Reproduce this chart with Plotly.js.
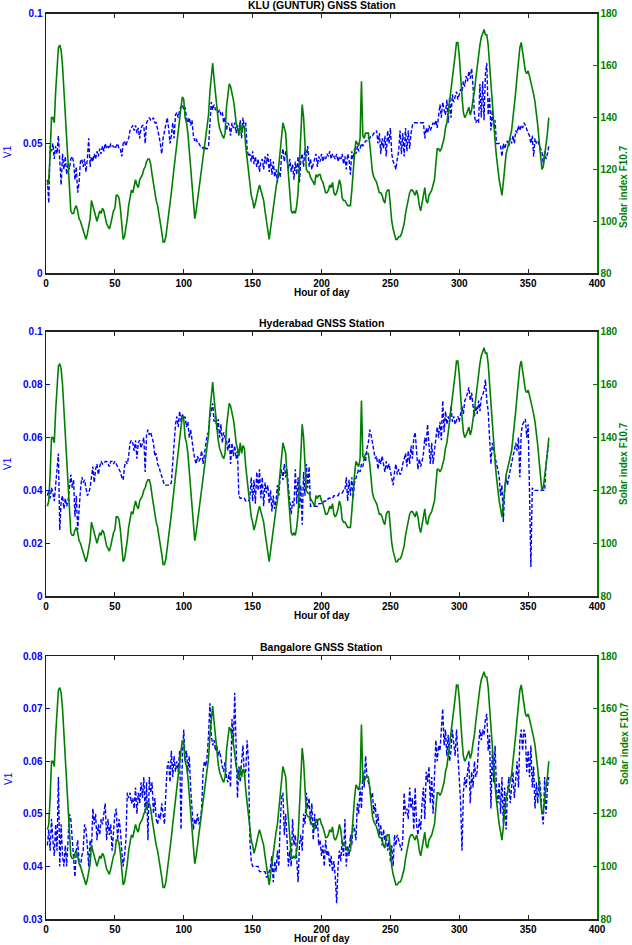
<!DOCTYPE html>
<html>
<head>
<meta charset="utf-8">
<script src="https://cdn.plot.ly/plotly-3.0.1.min.js"></script>
<style>html,body{margin:0;padding:0;background:#fff;}#chart{width:632px;height:945px;}</style>
</head>
<body>
<div id="chart"></div>
<script>
// Day index 1..365
const days = Array.from({length: 365}, (_, i) => i + 1);

const stationTitles = ["KLU (GUNTUR) GNSS Station", "Hyderabad GNSS Station", "Bangalore GNSS Station"];

// Solar index F10.7 (same in all panels)
const f107 = [
114,116,126,140,140,138,150,160,167,168,
166,160,150,140,131,122,112,104,103,103,
105,106,104,101,100,98,96,94,93,95,
98,101,108,106,103,101,100,102,104,103,
105,104,101,99,98,97,99,102,104,105,
110,110,109,105,99,93,94,97,101,106,
110,112,111,114,116,114,113,116,117,118,
120,121,123,124,124,122,118,114,110,108,
106,103,99,96,92,92,94,98,101,105,
111,116,121,126,131,135,139,144,148,147,
140,138,134,127,121,114,107,101,104,108,
111,115,120,124,129,133,136,141,150,156,
161,155,149,144,139,136,134,133,132,134,
144,150,153,152,150,147,143,138,136,133,
138,134,137,136,129,124,119,114,110,108,
105,107,110,112,114,112,111,108,104,100,
96,93,97,101,107,111,113,116,121,126,
132,138,136,134,125,118,112,104,103,104,
103,106,111,124,139,145,140,129,120,119,
119,117,116,115,114,118,117,118,118,116,
115,113,111,111,112,114,113,115,111,110,
111,113,116,114,109,108,108,107,106,106,
106,112,121,126,131,130,129,132,154,133,
132,134,134,134,130,125,119,117,116,115,
113,111,111,110,108,107,111,112,112,104,
100,97,95,93,93,94,94,95,97,99,
103,106,109,111,112,112,111,110,112,110,
106,104,107,110,113,108,107,110,111,112,
114,116,122,128,128,127,128,130,132,136,
138,142,146,151,156,160,164,169,169,164,
155,148,142,140,141,143,144,141,143,147,
150,155,160,165,168,171,173,174,172,172,
168,160,154,145,138,131,125,120,116,113,
110,115,122,126,128,130,132,135,140,144,
150,156,162,167,169,165,160,158,157,158,
156,154,152,149,146,142,137,131,124,120,
121,125,130,134,140];

// V1 — KLU (Guntur)
const v1Klu = [
0.036,0.027,0.049,0.047,0.050,0.044,0.049,0.046,0.053,0.041,
0.034,0.046,0.040,0.045,0.038,0.042,0.040,0.044,0.045,0.043,
0.036,0.041,0.031,0.035,0.043,0.044,0.041,0.044,0.039,0.044,
0.052,0.041,0.045,0.043,0.046,0.044,0.047,0.045,0.048,0.046,
0.049,0.047,0.050,0.048,0.049,0.048,0.050,0.049,0.049,0.048,
0.049,0.050,0.048,0.048,0.045,0.050,0.051,0.049,0.051,0.052,
0.055,0.056,0.057,0.055,0.057,0.054,0.056,0.052,0.056,0.057,
0.057,0.050,0.058,0.059,0.060,0.059,0.059,0.060,0.058,0.058,
0.056,0.053,0.050,0.046,0.052,0.055,0.058,0.060,0.056,0.050,
0.053,0.058,0.052,0.061,0.062,0.060,0.063,0.064,0.065,0.063,
0.064,0.060,0.058,0.060,0.057,0.059,0.053,0.051,0.052,0.050,
0.050,0.049,0.049,0.048,0.049,0.048,0.048,0.049,0.060,0.066,
0.063,0.065,0.063,0.063,0.062,0.063,0.061,0.062,0.058,0.060,
0.055,0.058,0.057,0.053,0.058,0.056,0.058,0.054,0.057,0.055,
0.059,0.052,0.060,0.056,0.058,0.048,0.045,0.046,0.043,0.047,
0.042,0.045,0.041,0.044,0.039,0.043,0.044,0.040,0.045,0.042,
0.046,0.039,0.044,0.038,0.043,0.037,0.040,0.035,0.039,0.037,
0.045,0.048,0.043,0.047,0.044,0.040,0.044,0.039,0.042,0.036,
0.043,0.038,0.045,0.035,0.044,0.046,0.041,0.048,0.045,0.049,
0.041,0.044,0.040,0.042,0.044,0.046,0.041,0.045,0.043,0.046,
0.043,0.045,0.044,0.046,0.045,0.047,0.044,0.046,0.045,0.044,
0.046,0.043,0.045,0.044,0.046,0.042,0.045,0.040,0.046,0.044,
0.038,0.047,0.044,0.048,0.046,0.049,0.047,0.048,0.050,0.049,
0.050,0.051,0.051,0.052,0.052,0.053,0.053,0.054,0.054,0.055,
0.050,0.054,0.046,0.052,0.048,0.053,0.045,0.055,0.050,0.056,
0.046,0.043,0.042,0.040,0.044,0.047,0.055,0.046,0.054,0.045,
0.056,0.047,0.055,0.048,0.054,0.057,0.058,0.058,0.058,0.058,
0.058,0.058,0.058,0.058,0.052,0.056,0.054,0.057,0.055,0.057,
0.058,0.057,0.059,0.056,0.062,0.065,0.060,0.066,0.063,0.061,
0.067,0.058,0.068,0.060,0.069,0.066,0.068,0.070,0.067,0.069,
0.071,0.070,0.074,0.072,0.076,0.074,0.078,0.075,0.079,0.072,
0.061,0.058,0.059,0.058,0.073,0.060,0.074,0.059,0.077,0.081,
0.061,0.068,0.055,0.063,0.056,0.059,0.050,0.050,0.050,0.049,
0.045,0.050,0.048,0.050,0.051,0.049,0.052,0.050,0.053,0.050,
0.055,0.054,0.057,0.055,0.057,0.056,0.058,0.057,0.055,0.054,
0.053,0.050,0.053,0.045,0.052,0.050,0.051,0.049,0.048,0.047,
0.042,0.047,0.044,0.046,0.049];

// V1 — Hyderabad
const v1Hyd = [
0.038,0.040,0.037,0.041,0.039,0.036,0.042,0.047,0.054,0.025,
0.036,0.038,0.033,0.037,0.034,0.036,0.040,0.046,0.041,0.044,
0.030,0.038,0.025,0.035,0.040,0.045,0.043,0.044,0.040,0.038,
0.039,0.041,0.045,0.049,0.043,0.048,0.050,0.046,0.049,0.051,
0.050,0.050,0.051,0.051,0.050,0.049,0.051,0.051,0.050,0.051,
0.050,0.049,0.048,0.047,0.045,0.044,0.049,0.051,0.050,0.053,
0.058,0.059,0.058,0.055,0.059,0.052,0.058,0.059,0.056,0.058,
0.060,0.047,0.061,0.063,0.061,0.062,0.060,0.058,0.053,0.054,
0.050,0.049,0.047,0.045,0.043,0.042,0.042,0.042,0.042,0.042,
0.043,0.050,0.060,0.065,0.068,0.064,0.070,0.066,0.069,0.067,
0.068,0.064,0.066,0.060,0.063,0.058,0.055,0.052,0.050,0.053,
0.051,0.052,0.055,0.050,0.054,0.058,0.061,0.062,0.068,0.070,
0.073,0.066,0.068,0.063,0.067,0.060,0.065,0.058,0.062,0.060,
0.059,0.055,0.060,0.050,0.058,0.053,0.057,0.052,0.055,0.038,
0.037,0.037,0.037,0.037,0.036,0.036,0.036,0.037,0.045,0.036,
0.044,0.035,0.047,0.040,0.048,0.037,0.045,0.034,0.043,0.039,
0.042,0.035,0.040,0.032,0.038,0.033,0.036,0.042,0.038,0.045,
0.048,0.044,0.050,0.045,0.048,0.041,0.037,0.031,0.036,0.034,
0.048,0.035,0.045,0.033,0.042,0.027,0.047,0.038,0.050,0.041,
0.049,0.034,0.034,0.034,0.034,0.034,0.034,0.035,0.035,0.035,
0.035,0.036,0.036,0.036,0.037,0.037,0.037,0.037,0.038,0.038,
0.038,0.038,0.039,0.039,0.039,0.040,0.040,0.045,0.036,0.044,
0.038,0.045,0.037,0.043,0.045,0.046,0.048,0.047,0.050,0.049,
0.052,0.051,0.056,0.058,0.063,0.061,0.058,0.055,0.052,0.053,
0.048,0.052,0.050,0.053,0.049,0.047,0.051,0.048,0.050,0.047,
0.045,0.042,0.047,0.050,0.046,0.048,0.046,0.047,0.050,0.052,
0.054,0.049,0.055,0.050,0.057,0.052,0.060,0.062,0.056,0.048,
0.052,0.049,0.051,0.054,0.060,0.057,0.065,0.055,0.050,0.058,
0.050,0.055,0.060,0.064,0.060,0.066,0.059,0.074,0.062,0.070,
0.065,0.068,0.066,0.072,0.066,0.068,0.065,0.067,0.068,0.066,
0.070,0.072,0.069,0.074,0.075,0.077,0.079,0.074,0.077,0.072,
0.068,0.072,0.069,0.074,0.070,0.075,0.076,0.078,0.082,0.074,
0.070,0.060,0.050,0.058,0.055,0.052,0.050,0.048,0.045,0.038,
0.042,0.028,0.040,0.045,0.042,0.045,0.048,0.050,0.053,0.055,
0.058,0.055,0.060,0.045,0.062,0.065,0.066,0.067,0.060,0.065,
0.040,0.011,0.041,0.040,0.040,0.040,0.040,0.040,0.040,0.040,
0.040,0.040,0.050,0.055,0.057];

// V1 — Bangalore
const v1Blr = [
0.044,0.047,0.043,0.049,0.045,0.042,0.048,0.043,0.057,0.040,
0.048,0.042,0.040,0.044,0.040,0.045,0.050,0.049,0.045,0.042,
0.038,0.043,0.045,0.041,0.040,0.042,0.043,0.048,0.047,0.044,
0.040,0.045,0.043,0.051,0.048,0.050,0.045,0.048,0.046,0.049,
0.048,0.050,0.052,0.045,0.049,0.046,0.048,0.043,0.046,0.050,
0.051,0.045,0.049,0.047,0.043,0.040,0.042,0.045,0.054,0.053,
0.054,0.052,0.053,0.051,0.055,0.050,0.054,0.052,0.056,0.053,
0.057,0.050,0.056,0.045,0.057,0.054,0.056,0.050,0.053,0.049,
0.048,0.050,0.049,0.052,0.050,0.048,0.054,0.059,0.060,0.056,
0.062,0.057,0.061,0.058,0.060,0.058,0.062,0.047,0.061,0.066,
0.060,0.062,0.058,0.061,0.055,0.050,0.047,0.049,0.048,0.050,
0.048,0.049,0.051,0.058,0.060,0.059,0.061,0.065,0.071,0.065,
0.063,0.064,0.062,0.063,0.061,0.062,0.060,0.059,0.058,0.060,
0.057,0.056,0.058,0.055,0.068,0.063,0.073,0.060,0.053,0.059,
0.056,0.060,0.063,0.057,0.058,0.064,0.060,0.045,0.041,0.040,
0.040,0.040,0.040,0.040,0.039,0.039,0.039,0.039,0.039,0.038,
0.038,0.039,0.040,0.042,0.037,0.041,0.039,0.043,0.040,0.048,
0.053,0.054,0.046,0.050,0.045,0.040,0.043,0.040,0.049,0.044,
0.046,0.041,0.037,0.044,0.046,0.043,0.050,0.048,0.054,0.051,
0.053,0.048,0.052,0.045,0.050,0.047,0.049,0.044,0.045,0.042,
0.044,0.040,0.045,0.042,0.043,0.040,0.042,0.039,0.041,0.038,
0.033,0.040,0.043,0.041,0.045,0.042,0.049,0.040,0.044,0.042,
0.046,0.044,0.048,0.047,0.045,0.052,0.050,0.055,0.051,0.058,
0.055,0.061,0.057,0.056,0.055,0.053,0.054,0.050,0.052,0.048,
0.050,0.046,0.048,0.044,0.047,0.045,0.046,0.043,0.045,0.041,
0.044,0.040,0.046,0.044,0.046,0.045,0.044,0.043,0.045,0.054,
0.050,0.051,0.049,0.055,0.051,0.053,0.047,0.055,0.048,0.046,
0.049,0.047,0.052,0.055,0.049,0.058,0.056,0.059,0.052,0.057,
0.050,0.058,0.064,0.060,0.063,0.062,0.066,0.070,0.063,0.066,
0.061,0.065,0.060,0.062,0.066,0.064,0.061,0.066,0.062,0.058,
0.052,0.043,0.054,0.057,0.055,0.058,0.060,0.052,0.058,0.055,
0.060,0.057,0.058,0.063,0.066,0.064,0.066,0.065,0.068,0.069,
0.062,0.065,0.051,0.062,0.056,0.063,0.055,0.052,0.056,0.050,
0.057,0.048,0.055,0.047,0.054,0.057,0.052,0.055,0.058,0.053,
0.056,0.060,0.055,0.064,0.066,0.062,0.066,0.065,0.058,0.062,
0.057,0.063,0.055,0.059,0.051,0.056,0.052,0.057,0.055,0.050,
0.048,0.057,0.050,0.055,0.057];

const v1Series = [v1Klu, v1Hyd, v1Blr];
const v1Ranges = [[0, 0.1], [0, 0.1], [0.03, 0.08]];
const v1Dticks = [0.05, 0.02, 0.01];
const f107Range = [80, 180];
const xRange = [0, 400];

const BLUE = 'rgb(0,0,255)';
const GREEN = 'rgb(0,128,0)';
const FONT = 'Liberation Sans, Arial, sans-serif';
const domains = [[0.7111, 0.9852], [0.3693, 0.6487], [0.0275, 0.3058]];

const traces = [];
const layout = {
  width: 632, height: 945,
  margin: {l: 46, r: 35, t: 0, b: 0},
  paper_bgcolor: '#fff', plot_bgcolor: '#fff',
  showlegend: false,
  font: {family: FONT, size: 10, color: '#000'},
  annotations: []
};

for (let p = 0; p < 3; p++) {
  const xa = p === 0 ? 'x' : 'x' + (p + 1);
  const yl = 'y' + (p === 0 ? '' : (2 * p + 1));
  const yr = 'y' + (2 * p + 2);
  const xKey = p === 0 ? 'xaxis' : 'xaxis' + (p + 1);
  const ylKey = p === 0 ? 'yaxis' : 'yaxis' + (2 * p + 1);
  const yrKey = 'yaxis' + (2 * p + 2);

  traces.push({x: days, y: v1Series[p], xaxis: xa, yaxis: yl, type: 'scatter', mode: 'lines',
    line: {color: BLUE, width: 1.4, dash: '4px,2px'}, name: 'V1'});
  traces.push({x: days, y: f107, xaxis: xa, yaxis: yr, type: 'scatter', mode: 'lines',
    line: {color: GREEN, width: 1.6}, name: 'F10.7'});

  layout[xKey] = {
    domain: [0, 1], anchor: yl.replace('y', 'y') , range: xRange, dtick: 50, tick0: 0,
    showline: true, linecolor: '#222', linewidth: 1.5, mirror: 'ticks',
    ticks: 'inside', ticklen: 4, tickcolor: '#222', tickwidth: 1,
    showgrid: false, zeroline: false,
    tickfont: {family: FONT, size: 10, color: '#000', weight: 'bold'}
  };
  layout[ylKey] = {
    domain: domains[p], anchor: xa, range: v1Ranges[p], dtick: v1Dticks[p], tick0: 0,
    showline: true, linecolor: BLUE, linewidth: 1.5,
    ticks: 'inside', ticklen: 4, tickcolor: BLUE, tickwidth: 1,
    showgrid: false, zeroline: false,
    tickfont: {family: FONT, size: 10, color: BLUE, weight: 'bold'}
  };
  layout[yrKey] = {
    domain: domains[p], anchor: xa, overlaying: yl, side: 'right',
    range: f107Range, dtick: 20, tick0: 80,
    showline: true, linecolor: GREEN, linewidth: 1.5,
    ticks: 'inside', ticklen: 4, tickcolor: GREEN, tickwidth: 1,
    showgrid: false, zeroline: false,
    tickfont: {family: FONT, size: 10, color: GREEN, weight: 'bold'}
  };

  const top = domains[p][1], bot = domains[p][0], mid = (top + bot) / 2;
  layout.annotations.push({xref: 'paper', yref: 'paper', x: 0.5, y: top, yanchor: 'bottom', yshift: 1,
    text: stationTitles[p], showarrow: false, font: {family: FONT, size: 10.5, color: '#000', weight: 'bold'}});
  layout.annotations.push({xref: 'paper', yref: 'paper', x: 0.5, y: bot, yanchor: 'middle', yshift: -19,
    text: 'Hour of day', showarrow: false, font: {family: FONT, size: 10, color: '#000', weight: 'bold'}});
  layout.annotations.push({xref: 'paper', yref: 'paper', x: 0, y: mid, xanchor: 'center', xshift: -38,
    text: 'V1', textangle: -90, showarrow: false, font: {family: FONT, size: 10, color: BLUE}});
  layout.annotations.push({xref: 'paper', yref: 'paper', x: 1, y: mid, xanchor: 'center', xshift: 27,
    text: 'Solar index F10.7', textangle: -90, showarrow: false, font: {family: FONT, size: 10, color: GREEN, weight: 'bold'}});
}

Plotly.newPlot('chart', traces, layout, {displayModeBar: false, staticPlot: true});
</script>
</body>
</html>
